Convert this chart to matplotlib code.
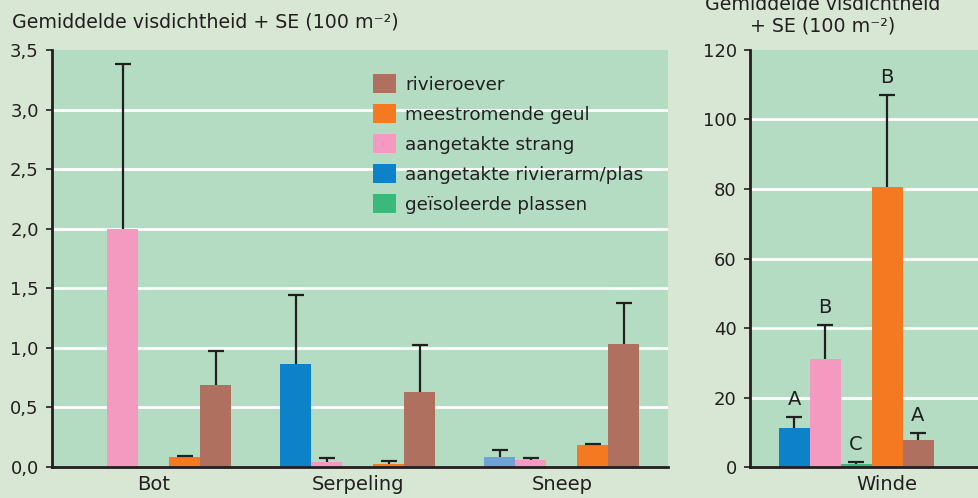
import numpy as np
import matplotlib
matplotlib.use("Agg")
import matplotlib.pyplot as plt
from matplotlib.patches import Patch

plt.rcParams['font.family'] = ['DejaVu Sans']

# habitat order within each group (left to right)
habitats = ["aangetakte rivierarm/plas", "aangetakte strang", "geïsoleerde plassen",
            "meestromende geul", "rivieroever"]
colors = ["#0e82c8", "#f49ac1", "#3bb97a", "#f47920", "#b07060"]
legend_order = [4, 3, 1, 0, 2]

species_left = ["Bot", "Serpeling", "Sneep"]
# mean density per habitat (rows: species, cols: habitat)
means_left = [
    [0.0, 2.0, 0.0, 0.086, 0.69],
    [0.865, 0.042, 0.0, 0.025, 0.63],
    [0.084, 0.059, 0.0, 0.185, 1.033],
]
se_left = [
    [np.nan, 1.38, np.nan, 0.01, 0.28],
    [0.575, 0.034, np.nan, 0.023, 0.395],
    [0.06, 0.017, np.nan, 0.011, 0.341],
]

species_right = ["Winde"]
means_right = [[11.2, 31.1, 0.8, 80.5, 7.8]]
se_right = [[3.2, 9.7, 0.6, 26.5, 2.0]]
letters_right = [["A", "B", "C", "B", "A"]]

left_ticks = [0, 0.5, 1.0, 1.5, 2.0, 2.5, 3.0, 3.5]
right_ticks = [0, 20, 40, 60, 80, 100, 120]

BG = "#d8e6d4"
PLOT = "#b3dcc3"
TXT = "#231f20"
W = 0.152


def draw_groups(ax, means, ses, bar_colors=None):
    means = np.array(means)
    ses = np.array(ses)
    for g in range(means.shape[0]):
        for h in range(means.shape[1]):
            if means[g, h] <= 0:
                continue
            x = g + (h - 2) * W
            c = colors[h]
            if bar_colors is not None and (g, h) in bar_colors:
                c = bar_colors[(g, h)]
            ax.bar(x, means[g, h], width=W, color=c, zorder=2)
            if not np.isnan(ses[g, h]):
                eb = ax.errorbar(x, means[g, h], yerr=[[0], [ses[g, h]]], fmt="none",
                                 ecolor=TXT, elinewidth=1.6, capsize=6, capthick=1.6,
                                 zorder=3)
                # only the upper cap
                eb[1][0].set_visible(False)


def style(ax):
    ax.set_facecolor(PLOT)
    ax.grid(axis="y", color="white", linewidth=2, zorder=1)
    ax.set_axisbelow(True)
    for s in ["top", "right"]:
        ax.spines[s].set_visible(False)
    for s in ["left", "bottom"]:
        ax.spines[s].set_linewidth(2)
        ax.spines[s].set_color(TXT)
    ax.tick_params(axis="y", length=4.5, width=1.2, pad=5, labelsize=13,
                   colors=TXT)
    ax.tick_params(axis="x", length=0, pad=6, labelsize=14, colors=TXT)


fig = plt.figure(figsize=(9.79, 4.98), dpi=100)
fig.patch.set_facecolor(BG)

H = 498.0
FW = 979.0
ax1 = fig.add_axes([52 / FW, 31 / H, 616 / FW, 417 / H])
ax2 = fig.add_axes([750 / FW, 31 / H, 229 / FW, 417 / H])

draw_groups(ax1, means_left, se_left, bar_colors={(2, 0): "#6fa3d8"})
ax1.set_xlim(-0.5, 2.52)
ax1.set_ylim(0, 3.5)
ax1.set_yticks(left_ticks)
ax1.set_yticklabels([f"{t:.1f}".replace(".", ",") for t in left_ticks])
ax1.set_xticks(range(len(species_left)))
ax1.set_xticklabels(species_left)
style(ax1)
for gl, t in zip(ax1.yaxis.get_gridlines(), left_ticks):
    gl.set_visible(0 < t < 3.5)

draw_groups(ax2, means_right, se_right)
for h in range(5):
    x = (h - 2) * W
    ax2.annotate(letters_right[0][h], (x, means_right[0][h] + se_right[0][h]),
                 xytext=(0, 6), textcoords="offset points", ha="center",
                 va="bottom", fontsize=14, color=TXT)
ax2.set_xlim(-0.52, 0.603)
ax2.set_ylim(0, 120)
ax2.set_yticks(right_ticks)
ax2.set_xticks([0.15])
ax2.set_xticklabels(species_right)
style(ax2)
for gl, t in zip(ax2.yaxis.get_gridlines(), right_ticks):
    gl.set_visible(0 < t < 120)

handles = [Patch(facecolor=colors[i]) for i in legend_order]
labels = [habitats[i] for i in legend_order]
fig.legend(handles, labels, loc="upper left",
           bbox_to_anchor=(373 / FW, 1 - 74 / H), bbox_transform=fig.transFigure,
           frameon=False, fontsize=13.2, handlelength=1.25, handleheight=1.25,
           handletextpad=0.5, labelspacing=0.55, borderpad=0, borderaxespad=0,
           labelcolor=TXT)

fig.text(12 / FW, 1 - 22 / H, "Gemiddelde visdichtheid + SE (100 m⁻²)",
         ha="left", va="center", fontsize=13.7, color=TXT)
fig.text(823 / FW, 1 - 36 / H, "Gemiddelde visdichtheid\n+ SE (100 m⁻²)",
         ha="center", va="bottom", fontsize=13.7, color=TXT, linespacing=1.2)

fig.savefig("out.png", dpi=100, facecolor=BG)
